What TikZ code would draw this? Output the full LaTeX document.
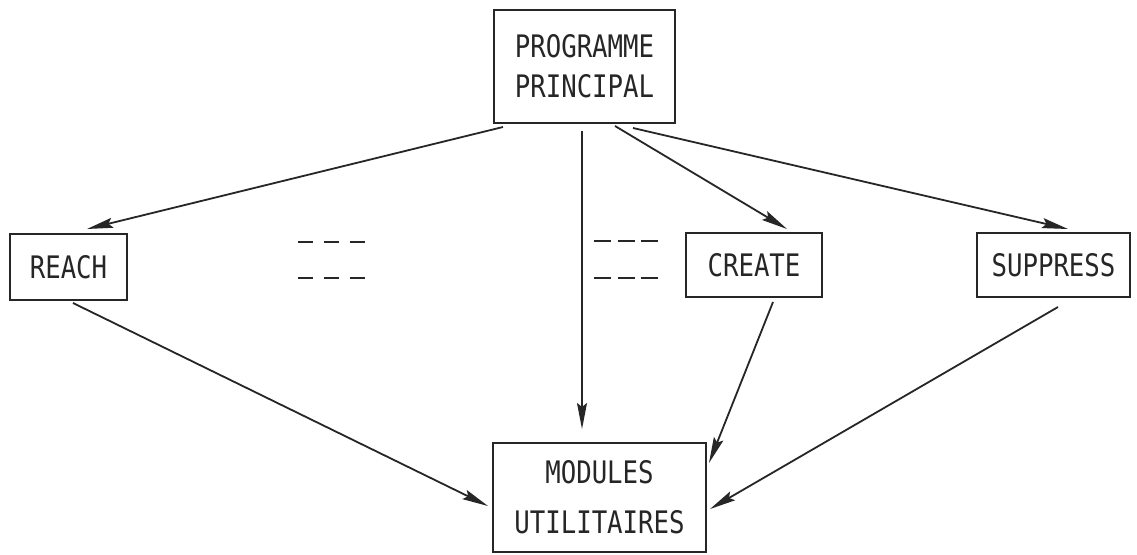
\documentclass[tikz,border=0pt]{standalone}
\usepackage{fontspec}
\newfontfamily\twfont[FakeStretch=0.83]{DejaVu Sans Mono}
\usetikzlibrary{arrows.meta}
\definecolor{ink}{HTML}{262626}
\begin{document}
\begin{tikzpicture}[x=1pt,y=-1pt,
  box/.style={draw=ink,line width=1.6pt,inner sep=0pt,outer sep=0pt,
    text=ink,font=\twfont\fontsize{31}{40}\selectfont,align=center},
  arr/.style={draw=ink,line width=1.8pt,-{Stealth[length=26pt,width=10pt,inset=4pt]}},
  dashline/.style={draw=ink,line width=2.2pt}
]
\useasboundingbox[fill=white] (0,0) rectangle (1137,554);
\node[box,minimum width=181pt,minimum height=113pt] (pp) at (584.5,66.5) {PROGRAMME\\PRINCIPAL};
\node[box,minimum width=117pt,minimum height=66pt] (reach) at (68.5,267) {REACH};
\node[box,minimum width=136pt,minimum height=64pt] (create) at (754,265) {CREATE};
\node[box,minimum width=153pt,minimum height=64pt] (suppress) at (1053.5,265) {SUPPRESS};
\node[box,minimum width=213pt,minimum height=109pt,font=\twfont\fontsize{31}{50}\selectfont] (mod) at (599.5,497.5) {MODULES\\UTILITAIRES};

\draw[arr] ([shift={(9,4)}]pp.south west) -- ([shift={(18.5,-5)}]reach.north);
\draw[arr] ([shift={(-2.5,8)}]pp.south) -- ([shift={(-17.5,-14)}]mod.north);
\draw[arr] ([shift={(30.5,3)}]pp.south) -- ([shift={(33,-4)}]create.north);
\draw[arr] ([shift={(48.5,5)}]pp.south) -- ([shift={(14.5,-4)}]suppress.north);
\draw[arr] ([shift={(4.5,3)}]reach.south) -- ([shift={(-5,8.5)}]mod.west);
\draw[arr] ([shift={(19,5)}]create.south) -- ([shift={(3,20)}]mod.north east);
\draw[arr] ([shift={(4.5,10)}]suppress.south) -- ([shift={(4,11.5)}]mod.east);

\draw[dashline,dash pattern=on 15pt off 11pt] (298,242) -- (366,242);
\draw[dashline,dash pattern=on 15pt off 11pt] (298,278) -- (366,278);
\draw[dashline,dash pattern=on 17pt off 6.5pt] (594,241) -- (658,241);
\draw[dashline,dash pattern=on 17pt off 6.5pt] (594,278) -- (658,278);
\end{tikzpicture}
\end{document}
